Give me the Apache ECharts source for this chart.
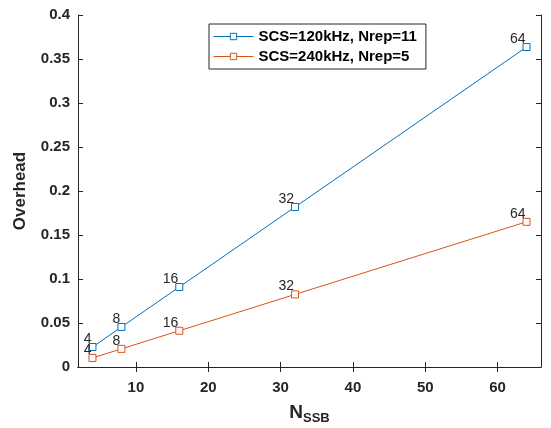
<!DOCTYPE html>
<html>
<head>
<meta charset="utf-8">
<script src="https://cdn.jsdelivr.net/npm/echarts@6/dist/echarts.min.js"></script>
<style>
  html, body { margin: 0; padding: 0; background: #fff; }
  #chart { width: 551px; height: 428px; }
</style>
</head>
<body>
<div id="chart"></div>
<script>
// Number of SSBs on the x axis
const nSSB = [4, 8, 16, 32, 64];
// Overhead for each configuration
const overhead120 = [0.0227, 0.0455, 0.0909, 0.1818, 0.3636];
const overhead240 = [0.0103, 0.0206, 0.0412, 0.0825, 0.165];
const seriesNames = ['SCS=120kHz, Nrep=11', 'SCS=240kHz, Nrep=5'];
const xTicks = [10, 20, 30, 40, 50, 60];
const yTicks = [0, 0.05, 0.1, 0.15, 0.2, 0.25, 0.3, 0.35, 0.4];

const axisColor = '#262626';
const font = 'Liberation Sans, Arial, Helvetica, sans-serif';

const toPairs = (ys) => nSSB.map((n, i) => [n, ys[i]]);

const pointLabel = {
  show: true,
  position: [3, 3],
  align: 'right',
  verticalAlign: 'bottom',
  color: '#262626',
  fontFamily: font,
  fontSize: 14,
  formatter: (p) => String(p.value[0])
};

const makeSeries = (name, ys, color) => ({
  name: name,
  type: 'line',
  data: toPairs(ys),
  xAxisIndex: 0,
  yAxisIndex: 0,
  symbol: 'rect',
  symbolSize: 7,
  showSymbol: true,
  lineStyle: { color: color, width: 1 },
  itemStyle: { color: '#fff', borderColor: color, borderWidth: 1 },
  label: pointLabel,
  emphasis: { disabled: true },
  animation: false
});

const chart = echarts.init(document.getElementById('chart'), null, { renderer: 'canvas' });

const baseAxisLine = { show: true, lineStyle: { color: axisColor, width: 1 } };

chart.setOption({
  animation: false,
  backgroundColor: '#fff',
  grid: { left: 78, top: 15, right: 10, bottom: 61, containLabel: false, outerBoundsMode: 'none' },
  legend: {
    left: 209,
    top: 24,
    orient: 'vertical',
    data: seriesNames,
    itemWidth: 40,
    itemHeight: 8,
    itemGap: 5,
    padding: [5, 9, 5, 4],
    backgroundColor: '#fff',
    borderColor: axisColor,
    borderWidth: 1,
    borderRadius: 0,
    lineStyle: { width: 1 },
    itemStyle: { color: '#fff', borderWidth: 1 },
    textStyle: { fontFamily: font, fontWeight: 'bold', fontSize: 15, color: '#000', padding: [1, 0, 1, 0] }
  },
  xAxis: [
    {
      type: 'value',
      min: 2,
      max: 66,
      position: 'bottom',
      name: '{n|N}{s|SSB}',
      nameLocation: 'middle',
      nameGap: 33,
      nameTextStyle: {
        rich: {
          n: { fontFamily: font, fontWeight: 'bold', fontSize: 19, color: '#262626' },
          s: { fontFamily: font, fontWeight: 'bold', fontSize: 13, color: '#262626', padding: [12, 0, 0, 0] }
        }
      },
      axisLine: baseAxisLine,
      axisTick: { show: true, inside: true, length: 5, customValues: xTicks, lineStyle: { color: axisColor } },
      axisLabel: { show: true, customValues: xTicks, margin: 13, fontFamily: font, fontWeight: 'bold', fontSize: 15, color: '#262626' },
      splitLine: { show: false }
    },
    {
      type: 'value',
      min: 2,
      max: 66,
      position: 'top',
      axisLine: baseAxisLine,
      axisTick: { show: true, inside: true, length: 5, customValues: xTicks, lineStyle: { color: axisColor } },
      axisLabel: { show: false },
      splitLine: { show: false }
    }
  ],
  yAxis: [
    {
      type: 'value',
      min: 0,
      max: 0.4,
      interval: 0.05,
      position: 'left',
      name: 'Overhead',
      nameLocation: 'middle',
      nameGap: 49,
      nameTextStyle: { fontFamily: font, fontWeight: 'bold', fontSize: 17, color: '#262626' },
      axisLine: baseAxisLine,
      axisTick: { show: true, inside: true, length: 5, lineStyle: { color: axisColor } },
      axisLabel: {
        show: true, margin: 8, fontFamily: font, fontWeight: 'bold', fontSize: 15, color: '#262626',
        formatter: (v) => String(+v.toFixed(2))
      },
      splitLine: { show: false }
    },
    {
      type: 'value',
      min: 0,
      max: 0.4,
      interval: 0.05,
      position: 'right',
      axisLine: baseAxisLine,
      axisTick: { show: true, inside: true, length: 5, lineStyle: { color: axisColor } },
      axisLabel: { show: false },
      splitLine: { show: false }
    }
  ],
  series: [
    makeSeries(seriesNames[0], overhead120, '#0072BD'),
    makeSeries(seriesNames[1], overhead240, '#D95319')
  ]
});
</script>
</body>
</html>
